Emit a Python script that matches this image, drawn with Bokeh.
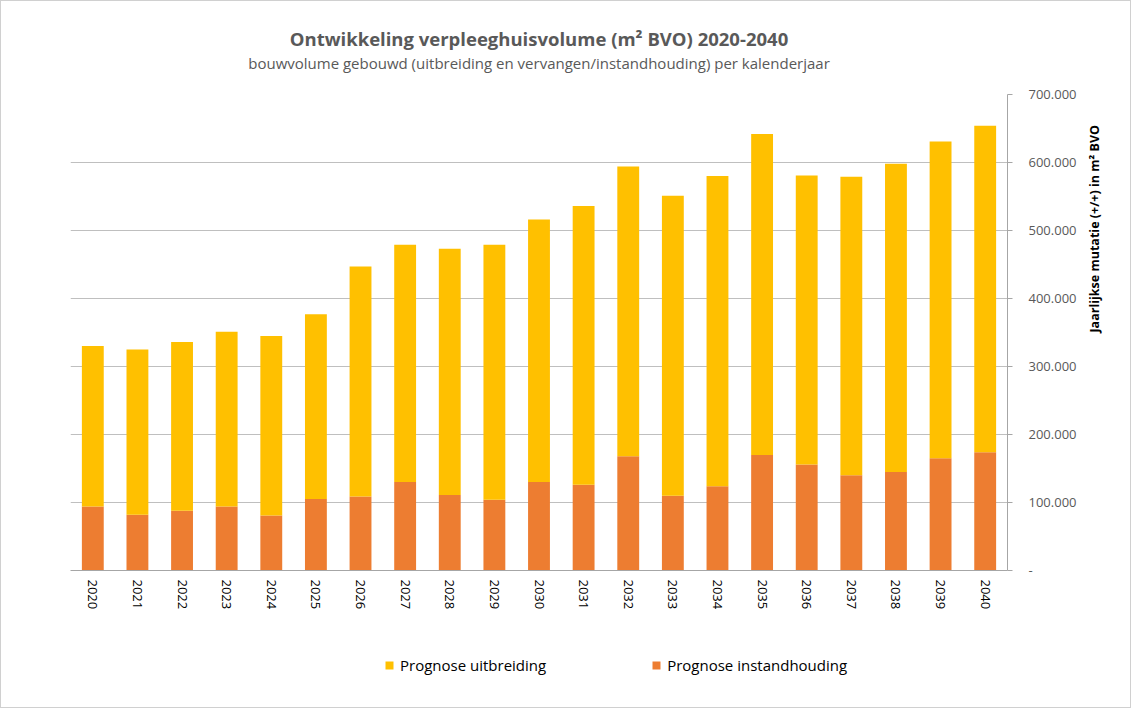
import math
from bokeh.plotting import figure
from bokeh.layouts import column
from bokeh.models import (ColumnDataSource, FactorRange, Range1d, Title, Legend,
                          LegendItem, CustomJSTickFormatter, SingleIntervalTicker)
from bokeh.embed import file_html
from bokeh.resources import INLINE

years = [str(y) for y in range(2020, 2041)]
instandhouding = [94000, 82000, 88000, 94000, 81000, 105000, 109000, 130000, 111000, 104000,
                  130000, 126000, 168000, 110000, 124000, 170000, 156000, 140000, 145000, 165000, 174000]
uitbreiding = [236000, 243000, 248000, 257000, 264000, 272000, 338000, 349000, 362000, 375000,
               386000, 410000, 426000, 441000, 456000, 472000, 425000, 439000, 453000, 466000, 480000]
legend_labels = ["Prognose uitbreiding", "Prognose instandhouding"]

series = ["instandhouding", "uitbreiding"]
colors = ["#ED7D31", "#FFC000"]

src = ColumnDataSource(dict(year=years, instandhouding=instandhouding, uitbreiding=uitbreiding))

FONT = "Open Sans"
GREY = "#595959"
W = 1129

xr = FactorRange(*years, range_padding=0.0, factor_padding=0.0)

p = figure(x_range=xr, y_range=Range1d(0, 700000),
           width=W, height=640, output_backend="svg", toolbar_location=None,
           y_axis_location="right", title=None,
           min_border_left=69, min_border_right=123, min_border_top=93, min_border_bottom=71)

r = p.vbar_stack(series, x="year", width=0.49, color=colors, source=src, line_color=None)

# Titles (spacer first, nearest the plot)
p.add_layout(Title(text=" ", text_font_size="1px", standoff=19), "above")
p.add_layout(Title(text="bouwvolume gebouwd (uitbreiding en vervangen/instandhouding) per kalenderjaar",
                   align="center", text_font=FONT, text_font_size="15px",
                   text_color=GREY, text_font_style="normal", standoff=0), "above")
p.add_layout(Title(text="Ontwikkeling verpleeghuisvolume (m² BVO) 2020-2040",
                   align="center", text_font=FONT, text_font_size="18.5px",
                   text_color=GREY, text_font_style="bold", standoff=0), "above")

# Y axis
ya = p.yaxis[0]
ya.ticker = SingleIntervalTicker(interval=100000)
ya.formatter = CustomJSTickFormatter(code="""
if (tick == 0) { return '-'; }
const s = Math.round(tick).toString();
return s.replace(/\\B(?=(\\d{3})+(?!\\d))/g, '.');
""")
ya.major_label_text_font = FONT
ya.major_label_text_font_size = "13px"
ya.major_label_text_color = GREY
ya.major_label_standoff = 16
ya.axis_line_color = "#A6A6A6"
ya.major_tick_line_color = "#A6A6A6"
ya.major_tick_out = 5
ya.major_tick_in = 0
ya.minor_tick_line_color = None
ya.axis_label = "Jaarlijkse mutatie (+/+) in m² BVO"
ya.axis_label_text_font = FONT
ya.axis_label_text_font_size = "12.5px"
ya.axis_label_text_font_style = "bold"
ya.axis_label_text_color = "#000000"
ya.axis_label_standoff = 15
if "axis_label_orientation" in ya.properties():
    ya.axis_label_orientation = math.pi / 2

# X axis
xa = p.xaxis[0]
xa.major_label_orientation = "vertical"
xa.major_label_text_font = FONT
xa.major_label_text_font_size = "13px"
xa.major_label_text_color = "#000000"
xa.major_label_standoff = 3
xa.axis_line_color = "#A6A6A6"
xa.major_tick_line_color = None
xa.minor_tick_line_color = None

p.xgrid.grid_line_color = None
p.ygrid.grid_line_color = "#BFBFBF"
p.ygrid.ticker = SingleIntervalTicker(interval=100000)
p.outline_line_color = None

# Legend strip: same stacked bars, kept out of view, so the legend has real glyphs
lf = figure(width=W, height=66, output_backend="svg", toolbar_location=None,
            x_range=xr, y_range=Range1d(2000000, 3000000), x_axis_type=None, y_axis_type=None,
            min_border=0, min_border_left=69, min_border_right=123, title=None)
lf.grid.visible = False
lf.outline_line_color = None
lr = lf.vbar_stack(series, x="year", width=0.49, color=colors, source=src, line_color=None)
legend = Legend(items=[LegendItem(label=legend_labels[0], renderers=[lr[1]]),
                       LegendItem(label=legend_labels[1], renderers=[lr[0]])],
                orientation="horizontal", location=(314, 32),
                label_text_font=FONT, label_text_font_size="15px", label_text_color="#000000",
                glyph_width=10, glyph_height=10, spacing=105, border_line_color=None,
                background_fill_alpha=0, padding=0, margin=0, label_standoff=6)
lf.add_layout(legend, "center")

layout = column(p, lf, spacing=0)
layout.styles = {"border": "1px solid #d0d0d0"}

open("out.html", "w").write(file_html(layout, INLINE))
